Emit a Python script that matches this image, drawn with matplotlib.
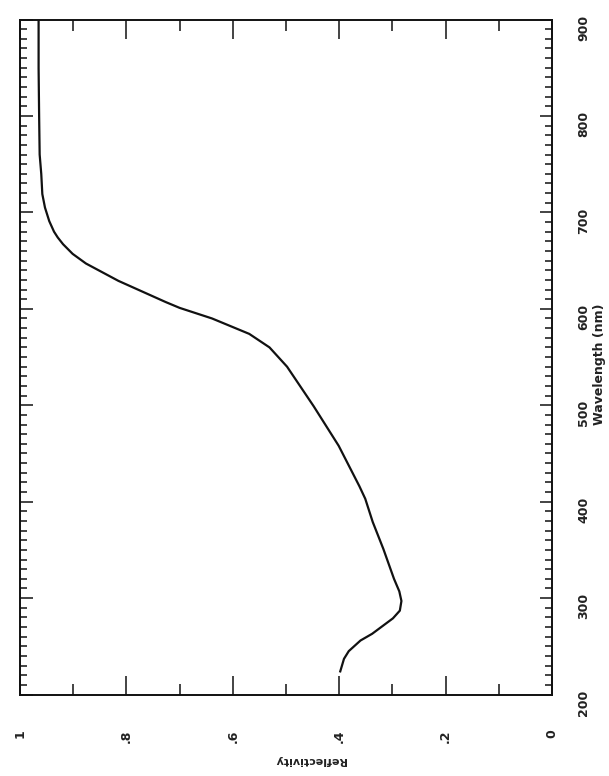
import matplotlib
matplotlib.use( "Agg" )
import matplotlib.pyplot as plt
from matplotlib.ticker import MultipleLocator, FixedLocator

wavelength = [ 224, 237, 245, 256, 263, 279, 287, 297, 307, 320, 351, 379, 403,
               416, 458, 499, 540, 560, 574, 590, 601, 607, 629, 647, 657, 667,
               674, 680, 691, 705, 719, 740, 760, 800, 850, 900 ]
reflectivity = [ 0.398, 0.391, 0.382, 0.360, 0.338, 0.299, 0.286, 0.283, 0.287,
                 0.297, 0.317, 0.337, 0.351, 0.362, 0.401, 0.448, 0.498, 0.531,
                 0.569, 0.639, 0.700, 0.726, 0.815, 0.876, 0.901, 0.919, 0.929,
                 0.936, 0.945, 0.953, 0.958, 0.960, 0.963, 0.964, 0.965, 0.965 ]

refl_ticks = [ 0, 0.2, 0.4, 0.6, 0.8, 1.0 ]
refl_labels = [ "0", ".2", ".4", ".6", ".8", "1" ]
wl_ticks = [ 200, 300, 400, 500, 600, 700, 800, 900 ]
wl_labels = [ "200", "300", "400", "500", "600", "700", "800", "900" ]

plt.rcParams["font.family"] = [ "DejaVu Sans" ]

fig = plt.figure( figsize = ( 6.09, 7.76 ), dpi = 100 )
ax = fig.add_axes( [ 0.0328, 0.105, 0.8736, 0.8698 ] )

# the page is turned: wavelength runs up, reflectivity runs to the left
ax.plot( reflectivity, wavelength, color = "#111111", linewidth = 1.6 )
ax.set_xlim( 1.0, 0.0 )
ax.set_ylim( 200, 900 )

for s in ax.spines.values():
    s.set_linewidth( 1.4 )
    s.set_color( "#111111" )

ax.xaxis.set_major_locator( FixedLocator( refl_ticks ) )
ax.xaxis.set_minor_locator( MultipleLocator( 0.1 ) )
ax.set_xticklabels( refl_labels )
ax.yaxis.set_major_locator( FixedLocator( wl_ticks ) )
ax.yaxis.set_minor_locator( MultipleLocator( 10 ) )
ax.set_yticklabels( wl_labels )

ax.tick_params( axis = "x", which = "both", direction = "in", top = True, bottom = True,
                width = 1.1, color = "#111111" )
ax.tick_params( axis = "x", which = "major", length = 14, pad = 25,
                labelsize = 9, labelrotation = 90 )
ax.tick_params( axis = "x", which = "minor", length = 8 )
ax.tick_params( axis = "y", which = "both", direction = "in", left = True, right = True,
                labelleft = False, labelright = True, width = 1.1, color = "#111111" )
ax.tick_params( axis = "y", which = "major", length = 9, pad = 18,
                labelsize = 9, labelrotation = 90 )
ax.tick_params( axis = "y", which = "minor", length = 5 )

for t in ax.get_xticklabels() + ax.get_yticklabels():
    t.set_fontweight( "bold" )
    t.set_color( "#222222" )

ax.set_xlabel( "Reflectivity", fontsize = 8, fontweight = "bold", rotation = 180,
               color = "#222222" )
ax.xaxis.set_label_coords( 0.545, -0.09 )
ax.yaxis.set_label_position( "right" )
ax.set_ylabel( "Wavelength (nm)", fontsize = 9, fontweight = "bold", rotation = 90,
               color = "#222222" )
ax.yaxis.set_label_coords( 1.077, 0.49 )

plt.savefig( "out.png", dpi = 100 )
plt.close()
